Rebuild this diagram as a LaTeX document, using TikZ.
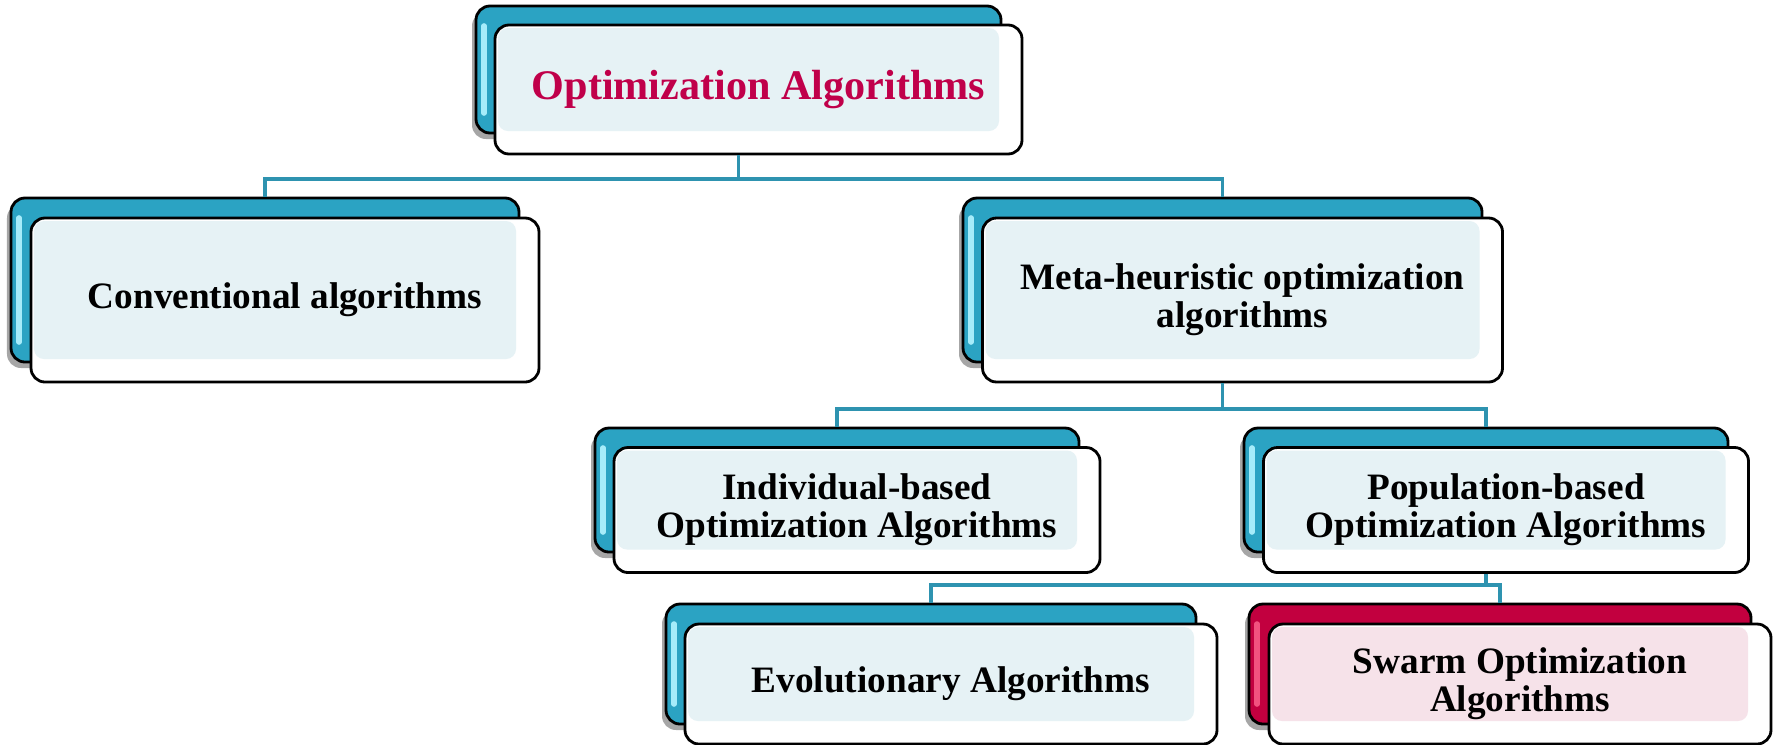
\documentclass[tikz,border=0pt]{standalone}
\usepackage{fontspec}
\setmainfont{Liberation Serif}
\usepackage{xcolor}
\usepackage{tikz}
\usetikzlibrary{calc,shadows}
\definecolor{plateb}{HTML}{2BA3C3}
\definecolor{plater}{HTML}{C2003F}
\definecolor{glossb}{HTML}{A6ECFA}
\definecolor{glossr}{HTML}{F2527F}
\definecolor{tintb}{HTML}{E6F2F5}
\definecolor{tintr}{HTML}{F6E2E9}
\definecolor{link}{HTML}{2E93B0}
\definecolor{crimson}{HTML}{C0004A}
\tikzset{
  plate/.style={draw=black, line width=0.8pt, rounded corners=0.14cm, fill=plate#1,
    inner sep=0pt,
    drop shadow={shadow xshift=-0.04cm, shadow yshift=-0.06cm, opacity=0.35, fill=black},
    path picture={\draw[gloss#1, line width=1.6pt, line cap=round]
      ([shift={(0.08,-0.2)}]path picture bounding box.north west) --
      ([shift={(0.08,0.2)}]path picture bounding box.south west);}},
  plate/.default=b,
  face/.style={draw=black, line width=0.8pt, rounded corners=0.14cm, fill=white,
    inner sep=0pt, align=center, font=\bfseries\fontsize{10.6}{10.8}\selectfont,
    path picture={\fill[#1, rounded corners=0.1cm]
      ([shift={(0.03,-0.03)}]path picture bounding box.north west) rectangle
      ([shift={(-0.23,0.23)}]path picture bounding box.south east);}},
  face/.default=tintb,
  headtext/.style={text=crimson, font=\bfseries\fontsize{12}{14}\selectfont},
  link/.style={draw=link, line width=1.1pt}
}
\begin{document}
\begin{tikzpicture}
  \useasboundingbox[fill=white] (0,0) rectangle (17.76,-7.44);

  % root
  \node[plate, minimum width=5.25cm, minimum height=1.27cm] (topB) at (7.385,-0.695) {};
  \node[face, headtext, minimum width=5.27cm, minimum height=1.29cm] (top)
    at ($(topB)+(0.2,-0.2)$) {Optimization Algorithms};

  % second level
  \node[plate, minimum width=5.08cm, minimum height=1.64cm] (convB) at (2.65,-2.80) {};
  \node[face, minimum width=5.08cm, minimum height=1.64cm] (conv)
    at ($(convB)+(0.2,-0.2)$) {Conventional algorithms};
  \node[plate, minimum width=5.19cm, minimum height=1.64cm] (metaB) at (12.225,-2.80) {};
  \node[face, minimum width=5.2cm, minimum height=1.64cm] (meta)
    at ($(metaB)+(0.2,-0.2)$) {Meta-heuristic optimization\\algorithms};

  % third level
  \node[plate, minimum width=4.84cm, minimum height=1.24cm] (indB) at (8.37,-4.90) {};
  \node[face, minimum width=4.86cm, minimum height=1.25cm] (ind)
    at ($(indB)+(0.2,-0.2)$) {Individual-based\\Optimization Algorithms};
  \node[plate, minimum width=4.84cm, minimum height=1.24cm] (popB) at (14.86,-4.90) {};
  \node[face, minimum width=4.85cm, minimum height=1.25cm] (pop)
    at ($(popB)+(0.2,-0.2)$) {Population-based\\Optimization Algorithms};

  % fourth level
  \node[plate, minimum width=5.30cm, minimum height=1.20cm] (evoB) at (9.31,-6.64) {};
  \node[face, minimum width=5.32cm, minimum height=1.20cm] (evo)
    at ($(evoB)+(0.2,-0.2)$) {Evolutionary Algorithms};
  \node[plate=r, minimum width=5.02cm, minimum height=1.20cm] (swaB) at (15.00,-6.64) {};
  \node[face=tintr, minimum width=5.02cm, minimum height=1.20cm] (swa)
    at ($(swaB)+(0.2,-0.2)$) {Swarm Optimization\\Algorithms};

  % connectors
  \draw[link] (topB.south |- top.south) |- ($(convB.north)+(0,0.18)$) -- (convB.north);
  \draw[link] (topB.south |- top.south) |- ($(metaB.north)+(0,0.18)$) -- (metaB.north);
  \draw[link] (metaB.south |- meta.south) |- ($(indB.north)+(0,0.18)$) -- (indB.north);
  \draw[link] (metaB.south |- meta.south) |- ($(popB.north)+(0,0.18)$) -- (popB.north);
  \draw[link] (popB.south |- pop.south) |- ($(evoB.north)+(0,0.18)$) -- (evoB.north);
  \draw[link] (popB.south |- pop.south) |- ($(swaB.north)+(0,0.18)$) -- (swaB.north);
\end{tikzpicture}
\end{document}
